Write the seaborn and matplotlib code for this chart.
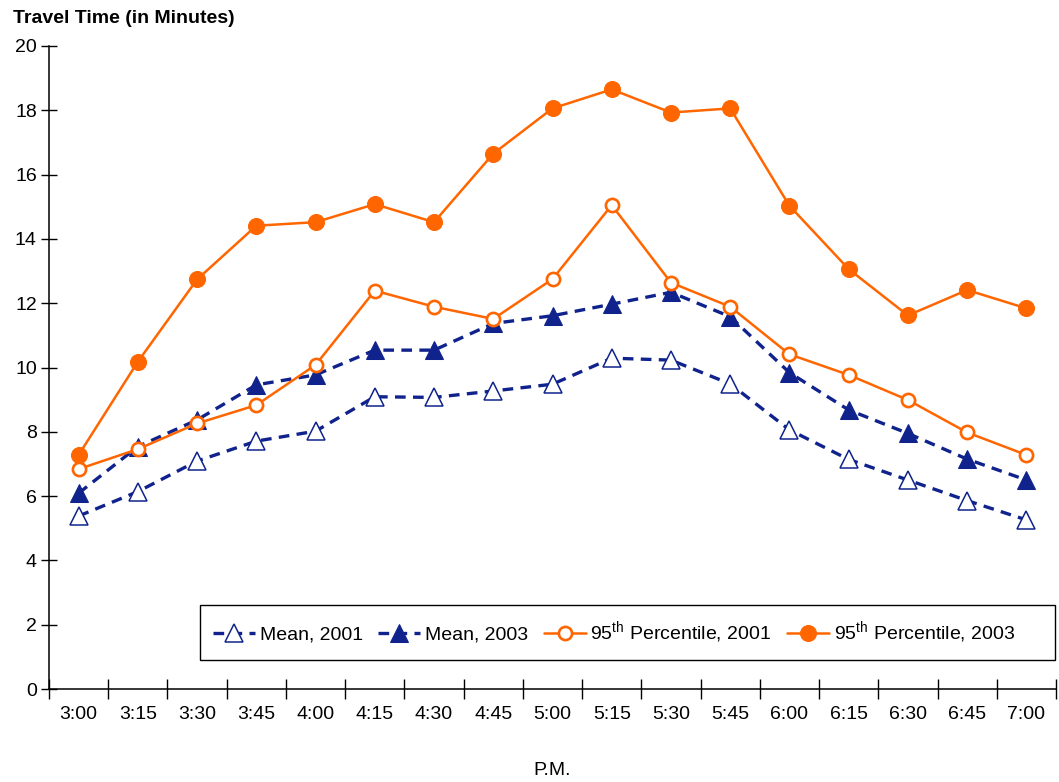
import numpy as np
import seaborn as sns
import matplotlib.pyplot as plt
from matplotlib.patches import Rectangle

times = ['3:00', '3:15', '3:30', '3:45', '4:00', '4:15', '4:30', '4:45', '5:00',
         '5:15', '5:30', '5:45', '6:00', '6:15', '6:30', '6:45', '7:00']
mean_2001 = [5.38, 6.14, 7.09, 7.71, 8.02, 9.09, 9.07, 9.27, 9.48,
             10.29, 10.23, 9.49, 8.06, 7.14, 6.50, 5.86, 5.26]
mean_2003 = [6.09, 7.54, 8.37, 9.46, 9.77, 10.54, 10.54, 11.37, 11.61,
             11.97, 12.34, 11.58, 9.84, 8.68, 7.95, 7.15, 6.50]
pct95_2001 = [6.84, 7.46, 8.26, 8.83, 10.08, 12.39, 11.89, 11.51, 12.75,
              15.05, 12.64, 11.89, 10.41, 9.77, 8.99, 7.98, 7.28]
pct95_2003 = [7.28, 10.18, 12.74, 14.41, 14.52, 15.08, 14.52, 16.65, 18.06,
              18.65, 17.93, 18.06, 15.03, 13.06, 11.62, 12.41, 11.84]

navy = '#10238c'
orange = '#ff6600'

sns.set_theme(style='white')
plt.rcParams['font.family'] = ['Liberation Sans', 'DejaVu Sans']
plt.rcParams['mathtext.fontset'] = 'custom'
plt.rcParams['mathtext.rm'] = 'Liberation Sans'
plt.rcParams['text.color'] = 'black'

fig = plt.figure(figsize=(10.59, 7.82), dpi=100)
ax = fig.add_axes([49 / 1059, 93 / 782, 1007 / 1059, 643 / 782])

x = np.arange(len(times))
dash = (0, (3.2, 2.2))

sns.lineplot(x=x, y=mean_2001, ax=ax, color=navy, linestyle=dash, linewidth=2.4,
             marker='^', markersize=13, markerfacecolor='white',
             markeredgecolor=navy, markeredgewidth=1.1, label='Mean, 2001')
sns.lineplot(x=x, y=mean_2003, ax=ax, color=navy, linestyle=dash, linewidth=2.4,
             marker='^', markersize=13, markerfacecolor=navy,
             markeredgecolor=navy, label='Mean, 2003')
sns.lineplot(x=x, y=pct95_2001, ax=ax, color=orange, linewidth=1.8,
             marker='o', markersize=9.5, markerfacecolor='white',
             markeredgecolor=orange, markeredgewidth=1.9,
             label='95$^{\\mathrm{th}}$ Percentile, 2001')
sns.lineplot(x=x, y=pct95_2003, ax=ax, color=orange, linewidth=1.8,
             marker='o', markersize=11.5, markerfacecolor=orange,
             markeredgecolor=orange, label='95$^{\\mathrm{th}}$ Percentile, 2003')

ax.set_xlim(-0.5, len(times) - 0.5)
ax.set_ylim(0, 20)
ax.set_yticks(range(0, 21, 2))
ax.set_xticks(x)
ax.set_xticklabels(times)
ax.set_xticks(np.arange(-0.5, len(times), 1.0), minor=True)

for s in ['top', 'right']:
    ax.spines[s].set_visible(False)
for s in ['left', 'bottom']:
    ax.spines[s].set_color('black')
    ax.spines[s].set_linewidth(1.1)

ax.tick_params(axis='x', which='major', length=0, pad=12, labelsize=14, colors='black')
ax.tick_params(axis='x', which='minor', direction='inout', length=15, width=1,
               color='black', bottom=True)
ax.tick_params(axis='y', direction='inout', length=11.5, width=1, pad=3,
               labelsize=14, colors='black', left=True)

ax.set_xlabel('P.M.', fontsize=14, labelpad=28, color='black')
ax.set_ylabel('')
fig.text(0.012, 0.976, 'Travel Time (in Minutes)', fontsize=14, fontweight='bold',
         va='center', ha='left', color='black')

# legend box spans to the right edge of the plot, as in the original
ax.add_patch(Rectangle((151 / 1007, 29 / 643), 855 / 1007, 55 / 643,
                       transform=ax.transAxes, facecolor='white',
                       edgecolor='black', linewidth=1.0, zorder=4, clip_on=False))
leg = ax.legend(loc='center left', bbox_to_anchor=(164 / 1007, 56.5 / 643), ncol=4,
                frameon=False, fontsize=14, handlelength=2.15, handletextpad=0.25,
                columnspacing=0.8, borderpad=0, borderaxespad=0, labelcolor='black')
leg.set_zorder(5)

fig.savefig('out.png', dpi=100)
